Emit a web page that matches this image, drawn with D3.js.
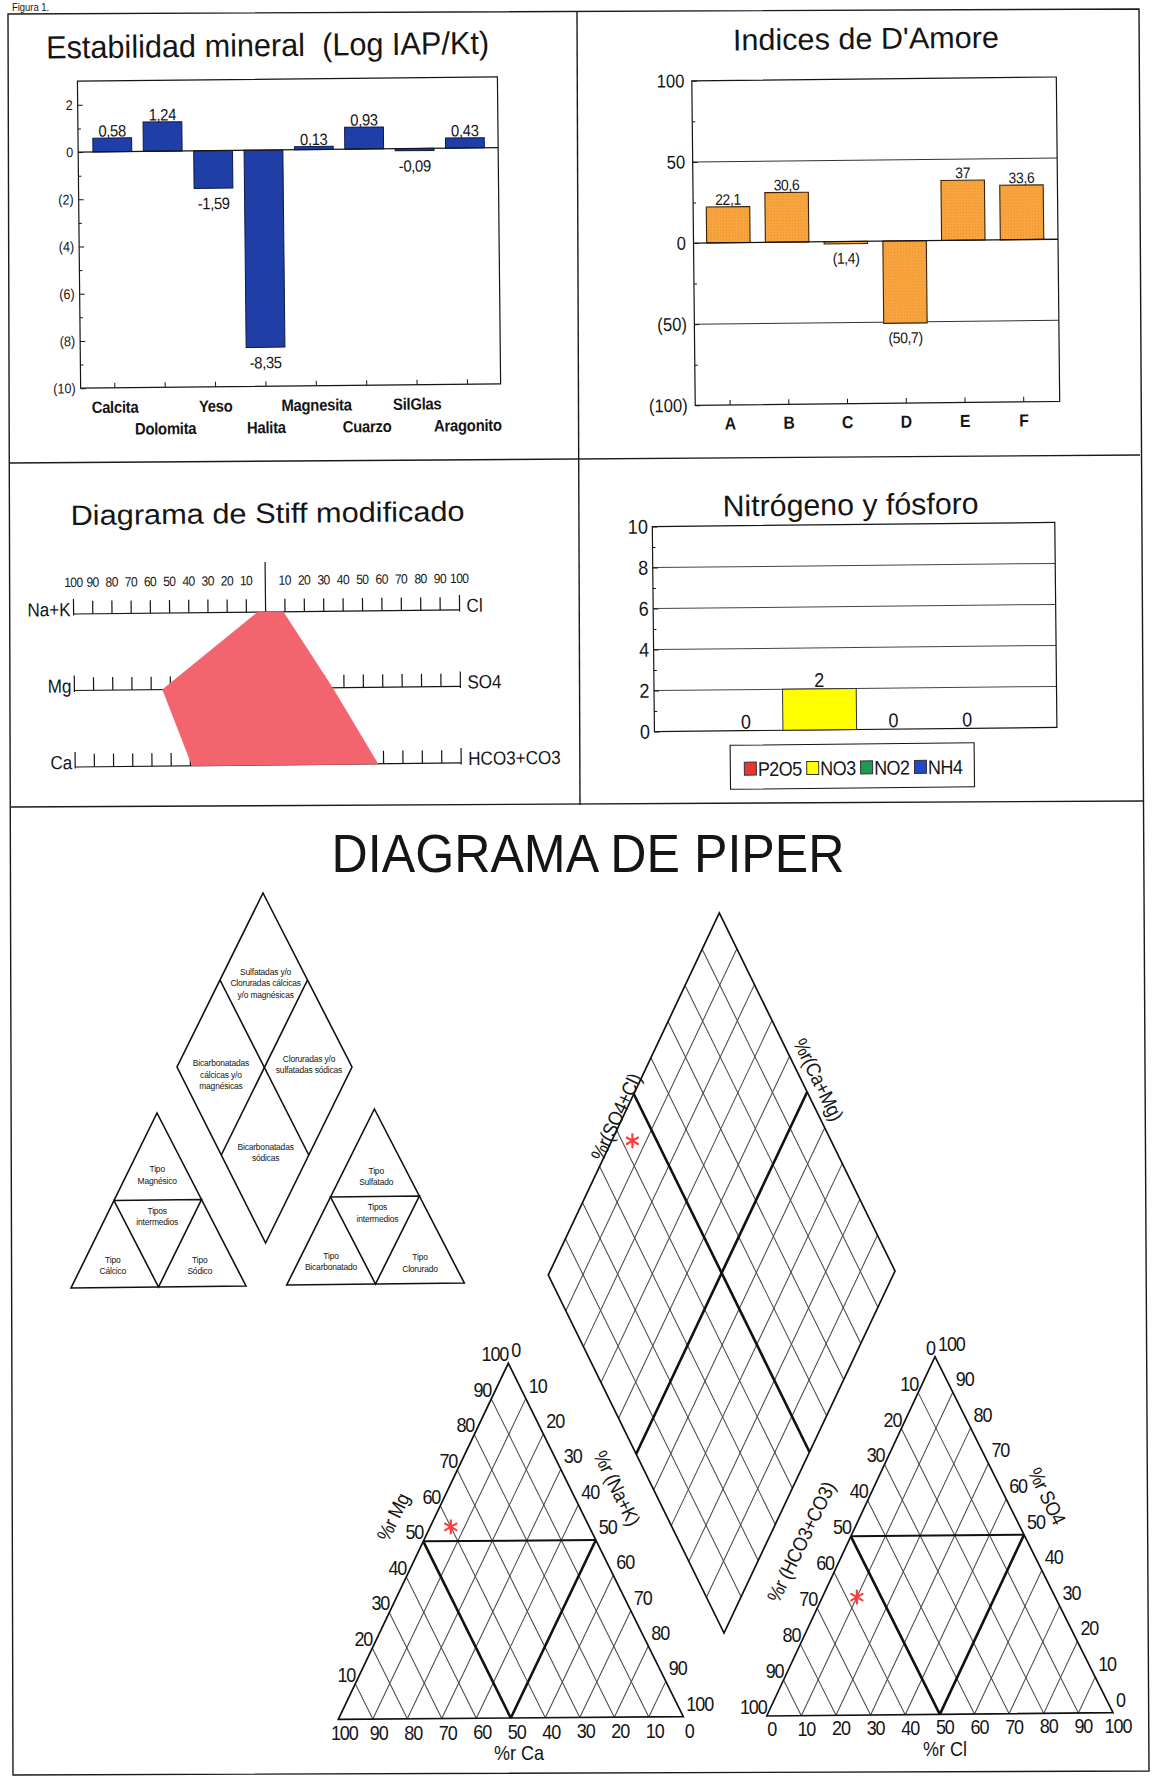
<!DOCTYPE html>
<html lang="es"><head><meta charset="utf-8"><title>Figura 1</title>
<script src="https://cdn.jsdelivr.net/npm/d3@7/dist/d3.min.js"></script>
<style>
html,body{margin:0;padding:0;background:#fff}
svg{display:block}
text{font-family:"Liberation Sans",Arial,Helvetica,sans-serif;fill:#151515}
</style></head><body>
<svg id="chart" width="1153" height="1778" viewBox="0 0 1153 1778"></svg>
<script>
// ================= DATA =================
const mineralNames = ["Calcita","Dolomita","Yeso","Halita","Magnesita","Cuarzo","SilGlas","Aragonito"];
const mineralLogIapKt = [0.58, 1.24, -1.59, -8.35, 0.13, 0.93, -0.09, 0.43];
const mineralTicks = [2, 0, -2, -4, -6, -8, -10];
const mineralMinorTicks = [1, -1, -3, -5, -7, -9];

const damoreIndices = ["A","B","C","D","E","F"];
const damoreValues = [22.1, 30.6, -1.4, -50.7, 37, 33.6];
const damoreTicks = [100, 50, 0, -50, -100];
const damoreMinorTicks = [75, 25, -25, -75];
const damoreGrid = [50, -50];

const stiffCations = ["Na+K","Mg","Ca"];
const stiffCationPct = [4, 54, 39];
const stiffAnions = ["Cl","SO4","HCO3+CO3"];
const stiffAnionPct = [9, 34, 57];
const stiffTicks = [10,20,30,40,50,60,70,80,90,100];

const nutrientNames = ["P2O5","NO3","NO2","NH4"];
const nutrientValues = [0, 2, 0, 0];
const nutrientTicks = [0, 2, 4, 6, 8, 10];
const nutrientMinorTicks = [1, 3, 5, 7, 9];
const nutrientGrid = [2, 4, 6, 8];

const piperCationNames = ["Ca","Mg","Na+K"];
const piperCationPct = [40, 54, 6];
const piperAnionNames = ["HCO3+CO3","SO4","Cl"];
const piperAnionPct = [57, 33, 10];
const piperTicks = [0,10,20,30,40,50,60,70,80,90,100];

// ================= STYLE =================
const FF = '"Liberation Sans", Arial, Helvetica, sans-serif';
const INK = "#151515";
const BLUE_TXT = "#3456b8";
const mineralFill = "#1f3fa6";
const nutrientFill = ["#e8352f","#ffff00","#1e9a55","#2348c8"];
const stiffFill = "#f2646e";
const starColor = "#ff3b3b";
const SQ = 0.9; // horizontal condensation of the printed lettering

const svg = d3.select("#chart");
const defs = svg.append("defs");
const pat = defs.append("pattern").attr("id","orangeDots").attr("patternUnits","userSpaceOnUse").attr("width",3).attr("height",3);
pat.append("rect").attr("width",3).attr("height",3).attr("fill","#f8a540");
pat.append("rect").attr("width",1).attr("height",1).attr("fill","#e38d2c");

function styleAxis(sel, size, weight){
  sel.select(".domain").remove();
  sel.selectAll("text").attr("font-family",FF).attr("font-size",size||10).attr("font-weight",weight||"normal").attr("fill",INK);
  sel.selectAll("line").attr("stroke",INK);
}
function title(g, x, y, size, len, txt){
  g.append("text").attr("class","ttl").attr("x",x).attr("y",y).attr("text-anchor","middle").attr("font-size",size)
   .attr("textLength",len).attr("lengthAdjust","spacingAndGlyphs").text(txt);
}

// ================= PAGE FRAME =================
const fr = svg.append("g").attr("fill","none").attr("stroke","#1a1a1a").attr("stroke-width",1.4);
fr.append("path").attr("d","M8,14L1139,9L1149,1771L13,1775Z");
fr.append("path").attr("d","M9,463L1140,455");
fr.append("path").attr("d","M11,807L1143,801");
fr.append("path").attr("d","M577,12L580,805");
svg.append("text").attr("x",12).attr("y",11).attr("font-family",'"Liberation Serif","Times New Roman",serif')
  .attr("font-size",10.5).text("Figura 1.");

// ================= CHART 1: Estabilidad mineral =================
{
  const g = svg.append("g").attr("transform","rotate(-0.6,290,230)");
  const x = d3.scaleBand().domain(mineralNames).range([88,491]).paddingInner(0.23).paddingOuter(0.115);
  const y = d3.scaleLinear().domain([-10,3]).range([386,79]);
  const L = 79, R = 499;
  title(g, 269.5, 56, 32, 443, "Estabilidad mineral\u00a0\u00a0(Log IAP/Kt)");
  g.append("rect").attr("x",L).attr("y",y(3)).attr("width",R-L).attr("height",y(-10)-y(3))
    .attr("fill","none").attr("stroke",INK).attr("stroke-width",1.2);
  g.append("g").selectAll("rect").data(mineralNames).join("rect")
    .attr("x",d=>x(d)).attr("width",x.bandwidth())
    .attr("y",(d,i)=>y(Math.max(0,mineralLogIapKt[i])))
    .attr("height",(d,i)=>Math.abs(y(mineralLogIapKt[i])-y(0)))
    .attr("fill",mineralFill).attr("stroke","#0c1848").attr("stroke-width",1);
  g.append("line").attr("x1",L).attr("x2",R).attr("y1",y(0)).attr("y2",y(0)).attr("stroke",INK).attr("stroke-width",1.2);
  const fmt = v => v.toFixed(2).replace(".",",");
  g.append("g").selectAll("text").data(mineralNames).join("text")
    .attr("x",d=>x(d)+x.bandwidth()/2)
    .attr("y",(d,i)=>{const v=mineralLogIapKt[i]; return v>=0 ? y(v)-1.5 : y(v)+21;})
    .attr("text-anchor","middle").attr("font-size",16.5).attr("letter-spacing",-0.4)
    .text((d,i)=>fmt(mineralLogIapKt[i]));
  const ya = g.append("g").attr("transform",`translate(${L},0)`)
    .call(d3.axisLeft(y).tickValues(mineralTicks).tickSize(-5).tickSizeOuter(0).tickPadding(5)
      .tickFormat(v=>v<0?`(${-v})`:`${v}`));
  styleAxis(ya, 14);
  const ym = g.append("g").attr("transform",`translate(${L},0)`)
    .call(d3.axisLeft(y).tickValues(mineralMinorTicks).tickSize(-3).tickSizeOuter(0).tickFormat(""));
  styleAxis(ym);
  const xa = g.append("g").attr("transform",`translate(0,${y(-10)})`)
    .call(d3.axisBottom(x).tickSize(-5).tickSizeOuter(0).tickFormat(""));
  styleAxis(xa);
  g.append("g").selectAll("text").data(mineralNames).join("text")
    .attr("x",d=>x(d)+x.bandwidth()/2).attr("y",(d,i)=>i%2===0?411:433)
    .attr("text-anchor","middle").attr("font-size",16.5).attr("font-weight","bold").attr("letter-spacing",-0.3)
    .text(d=>d);
}

// ================= CHART 2: Indices de D'Amore =================
{
  const g = svg.append("g").attr("transform","rotate(-0.6,866,240)");
  const x = d3.scaleBand().domain(damoreIndices).range([699,1051.4]).paddingInner(0.26).paddingOuter(0.13);
  const y = d3.scaleLinear().domain([-100,100]).range([403.5,79]);
  const L = 693.5, R = 1058;
  title(g, 868, 49, 30, 266, "Indices de D'Amore");
  g.append("g").selectAll("line").data(damoreGrid).join("line")
    .attr("x1",L).attr("x2",R).attr("y1",d=>y(d)).attr("y2",d=>y(d)).attr("stroke","#333").attr("stroke-width",1);
  g.append("rect").attr("x",L).attr("y",y(100)).attr("width",R-L).attr("height",y(-100)-y(100))
    .attr("fill","none").attr("stroke",INK).attr("stroke-width",1.2);
  g.append("g").selectAll("rect").data(damoreIndices).join("rect")
    .attr("x",d=>x(d)).attr("width",x.bandwidth())
    .attr("y",(d,i)=>y(Math.max(0,damoreValues[i])))
    .attr("height",(d,i)=>Math.abs(y(damoreValues[i])-y(0)))
    .attr("fill","url(#orangeDots)").attr("stroke","#3a2206").attr("stroke-width",1.1);
  g.append("line").attr("x1",L).attr("x2",R).attr("y1",y(0)).attr("y2",y(0)).attr("stroke",INK).attr("stroke-width",1.3);
  const fmt = v => { const s = String(Math.abs(v)).replace(".",","); return v<0?`(${s})`:s; };
  g.append("g").selectAll("text").data(damoreIndices).join("text")
    .attr("x",d=>x(d)+x.bandwidth()/2)
    .attr("y",(d,i)=>{const v=damoreValues[i]; return v>=0 ? y(v)-2 : y(v)+20;})
    .attr("text-anchor","middle").attr("font-size",15.5).attr("letter-spacing",-0.4)
    .text((d,i)=>fmt(damoreValues[i]));
  const ya = g.append("g").attr("transform",`translate(${L},0)`)
    .call(d3.axisLeft(y).tickValues(damoreTicks).tickSize(-5).tickSizeOuter(0).tickPadding(7.5)
      .tickFormat(v=>v<0?`(${-v})`:`${v}`));
  styleAxis(ya, 18.5);
  const ym = g.append("g").attr("transform",`translate(${L},0)`)
    .call(d3.axisLeft(y).tickValues(damoreMinorTicks).tickSize(-3).tickSizeOuter(0).tickFormat(""));
  styleAxis(ym);
  const xa = g.append("g").attr("transform",`translate(0,${y(-100)})`)
    .call(d3.axisBottom(x).tickSize(-5).tickSizeOuter(0).tickFormat(""));
  styleAxis(xa);
  g.append("g").selectAll("text").data(damoreIndices).join("text")
    .attr("x",d=>x(d)+x.bandwidth()/2).attr("y",428)
    .attr("text-anchor","middle").attr("font-size",17.5).attr("font-weight","bold").text(d=>d);
}

// ================= CHART 3: Stiff =================
{
  const g = svg.append("g").attr("transform","rotate(-0.6,266,650)");
  title(g, 269, 523, 28, 394, "Diagrama de Stiff modificado");
  const sL = d3.scaleLinear().domain([0,100]).range([266,74]);
  const sR = d3.scaleLinear().domain([0,100]).range([266,460]);
  const rowY = d3.scalePoint().domain(d3.range(3)).range([612,765]);
  const ax = g.append("g").attr("stroke",INK).attr("stroke-width",1.2);
  ax.append("line").attr("x1",sL(0)).attr("x2",sL(0)).attr("y1",562).attr("y2",rowY(2));
  d3.range(3).forEach(i=>{
    const yy = rowY(i);
    ax.append("line").attr("x1",sL(100)).attr("x2",sR(100)).attr("y1",yy).attr("y2",yy);
    [sL,sR].forEach(s=>{
      ax.selectAll(null).data(stiffTicks).join("line")
        .attr("x1",d=>s(d)).attr("x2",d=>s(d))
        .attr("y1",d=>yy-(d===100?15:13)).attr("y2",d=>yy+(d===100?1.5:0));
    });
    g.append("text").attr("x",sL(100)-3).attr("y",yy+2).attr("text-anchor","end").attr("font-size",19).text(stiffCations[i]);
    g.append("text").attr("x",sR(100)+7).attr("y",yy+2).attr("text-anchor","start").attr("font-size",19).text(stiffAnions[i]);
  });
  [sL,sR].forEach(s=>{
    g.append("g").selectAll("text").data(stiffTicks).join("text")
      .attr("x",d=>s(d)).attr("y",585).attr("text-anchor","middle").attr("font-size",13.5).attr("letter-spacing",-0.7)
      .text(d=>d);
  });
  const pts = [
    [sL(stiffCationPct[0]), rowY(0)], [sR(stiffAnionPct[0]), rowY(0)],
    [sR(stiffAnionPct[1]), rowY(1)], [sR(stiffAnionPct[2]), rowY(2)],
    [sL(stiffCationPct[2]), rowY(2)], [sL(stiffCationPct[1]), rowY(1)]
  ];
  g.append("path").attr("d", d3.line()(pts)+"Z").attr("fill",stiffFill).attr("stroke",stiffFill).attr("stroke-width",0.8);
}

// ================= CHART 4: Nitrógeno y fósforo =================
{
  const g = svg.append("g").attr("transform","rotate(-0.6,855,640)");
  title(g, 852, 515, 30, 256, "Nitrógeno y fósforo");
  const x = d3.scaleBand().domain(nutrientNames).range([708.3,1003.1]).padding(0);
  const y = d3.scaleLinear().domain([0,10]).range([729.5,524.5]);
  const L = 653.5, R = 1056;
  g.append("g").selectAll("line").data(nutrientGrid).join("line")
    .attr("x1",L).attr("x2",R).attr("y1",d=>y(d)).attr("y2",d=>y(d)).attr("stroke","#444").attr("stroke-width",1);
  g.append("rect").attr("x",L).attr("y",y(10)).attr("width",R-L).attr("height",y(0)-y(10))
    .attr("fill","none").attr("stroke",INK).attr("stroke-width",1.2);
  g.append("g").selectAll("rect").data(nutrientNames).join("rect")
    .attr("x",d=>x(d)).attr("width",x.bandwidth())
    .attr("y",(d,i)=>y(nutrientValues[i])).attr("height",(d,i)=>y(0)-y(nutrientValues[i]))
    .attr("fill",(d,i)=>nutrientFill[i]).attr("stroke","#333").attr("stroke-width",1);
  g.append("g").selectAll("text").data(nutrientNames).join("text")
    .attr("x",d=>x(d)+x.bandwidth()/2).attr("y",(d,i)=>y(nutrientValues[i])-2)
    .attr("text-anchor","middle").attr("font-size",20).text((d,i)=>nutrientValues[i]);
  const ya = g.append("g").attr("transform",`translate(${L},0)`)
    .call(d3.axisLeft(y).tickValues(nutrientTicks).tickSize(-5).tickSizeOuter(0).tickPadding(4.5));
  styleAxis(ya, 20);
  const ym = g.append("g").attr("transform",`translate(${L},0)`)
    .call(d3.axisLeft(y).tickValues(nutrientMinorTicks).tickSize(-3).tickSizeOuter(0).tickFormat(""));
  styleAxis(ym);
  const lg = g.append("g");
  lg.append("rect").attr("x",729).attr("y",744).attr("width",244).attr("height",44)
    .attr("fill","none").attr("stroke",INK).attr("stroke-width",1.1);
  let cx = 743;
  nutrientNames.forEach((n,i)=>{
    lg.append("rect").attr("x",cx).attr("y",761).attr("width",12).attr("height",13)
      .attr("fill",nutrientFill[i]).attr("stroke","#333").attr("stroke-width",1);
    const t = lg.append("text").attr("x",cx+13.5).attr("y",775).attr("font-size",20).attr("letter-spacing",-0.6).text(n);
    cx = cx + 13.5 + t.node().getComputedTextLength()*SQ + 5;
  });
}

// ================= PIPER =================
const gp = svg.append("g");
title(gp, 588, 872, 54, 513, "DIAGRAMA DE PIPER");
const mid = (p,q)=>[(p[0]+q[0])/2,(p[1]+q[1])/2];

// ---- explanatory (legend) diagram ----
{
  const g = gp.append("g");
  const lines = g.append("g").attr("fill","none").attr("stroke","#111").attr("stroke-width",1.6);
  const T=[263,893], Lf=[177,1067], Rt=[352,1067], Bt=[265.6,1243];
  lines.append("path").attr("d",d3.line()([T,Rt,Bt,Lf])+"Z");
  lines.append("path").attr("d",d3.line()([mid(T,Lf),mid(Rt,Bt)]));
  lines.append("path").attr("d",d3.line()([mid(T,Rt),mid(Lf,Bt)]));
  const tri = (A,BL,BR)=>{
    lines.append("path").attr("d",d3.line()([A,BR,BL])+"Z");
    lines.append("path").attr("d",d3.line()([mid(A,BL),mid(A,BR),mid(BL,BR)])+"Z");
  };
  tri([157,1113],[71,1288],[246,1286]);
  tri([374.4,1109],[286.7,1285],[464.3,1283]);
  const lab = (x,y,arr,lh)=>{
    const t = g.append("text").attr("x",x).attr("y",y).attr("text-anchor","middle").attr("font-size",9.4).attr("letter-spacing",-0.2);
    arr.forEach((s,i)=>t.append("tspan").attr("x",x).attr("dy",i?lh:0).text(s));
  };
  lab(265.6,975,["Sulfatadas y/o","Cloruradas cálcicas","y/o magnésicas"],11.3);
  lab(220.9,1066.5,["Bicarbonatadas","cálcicas y/o","magnésicas"],11.3);
  lab(309,1062.5,["Cloruradas y/o","sulfatadas sódicas"],10.5);
  lab(265.6,1150,["Bicarbonatadas","sódicas"],11.5);
  lab(157.2,1172.5,["Tipo","Magnésico"],11.3);
  lab(157.2,1214,["Tipos","intermedios"],11.3);
  lab(112.8,1263,["Tipo","Cálcico"],11.3);
  lab(199.8,1263,["Tipo","Sódico"],11.3);
  lab(376.2,1174,["Tipo","Sulfatado"],11.3);
  lab(377.4,1210.5,["Tipos","intermedios"],11.3);
  lab(331,1259,["Tipo","Bicarbonatado"],11.3);
  lab(420,1260.5,["Tipo","Clorurado"],11.3);
}

// ---- geometry helpers through d3 scales ----
const pct = d3.scaleLinear().domain([0,100]).range([0,1]);
function ternary(O,A,Q){ // O: bottom-left vertex, A: apex, Q: bottom-right
  return (a,b)=>{ const ta=pct(a), tb=pct(b);
    return [O[0]+ta*(A[0]-O[0])+tb*(Q[0]-O[0]), O[1]+ta*(A[1]-O[1])+tb*(Q[1]-O[1])]; };
}
function star(g,[x,y]){
  const r=6.5;
  [90,30,-30].forEach(a=>{ const rad=a*Math.PI/180;
    g.append("line").attr("x1",x-r*Math.cos(rad)).attr("y1",y-r*Math.sin(rad))
      .attr("x2",x+r*Math.cos(rad)).attr("y2",y+r*Math.sin(rad))
      .attr("stroke",starColor).attr("stroke-width",2.2).attr("stroke-linecap","round"); });
}
const inner = d3.range(10,100,10);
const GRID = {stroke:"#4a4a4a", w:1.05}, EDGE = {stroke:"#111", w:1.7}, BOLD = {stroke:"#111", w:2.6};
function seg(g,p,q,st){ g.append("line").attr("x1",p[0]).attr("y1",p[1]).attr("x2",q[0]).attr("y2",q[1]).attr("stroke",st.stroke).attr("stroke-width",st.w); }
function rotLabel(g,x,y,ang,txt){
  g.append("text").attr("x",x).attr("y",y).attr("dy","0.35em").attr("text-anchor","middle")
    .attr("transform",`rotate(${ang},${x},${y})`).attr("font-size",20).attr("fill",BLUE_TXT).attr("letter-spacing",-0.5).text(txt);
}
function drawTriangle(g, O, A, Q){
  const P = ternary(O,A,Q);
  inner.forEach(t=>{ seg(g,P(0,t),P(t,0),GRID); seg(g,P(0,t),P(100-t,t),GRID); });
  g.append("path").attr("d",d3.line()([O,A,Q])+"Z").attr("fill","none").attr("stroke",EDGE.stroke).attr("stroke-width",EDGE.w);
  seg(g,P(50,0),P(50,50),{stroke:"#111",w:2});
  seg(g,P(50,0),P(0,50),BOLD); seg(g,P(50,50),P(0,50),BOLD);
  return P;
}
function tickLabels(g, pts, vals, anchor, dx, dy){
  g.append("g").selectAll("text").data(vals).join("text")
    .attr("x",(d,i)=>pts[i][0]+dx).attr("y",(d,i)=>pts[i][1]+dy).attr("text-anchor",anchor)
    .attr("font-size",20).attr("letter-spacing",-1.2).attr("fill",BLUE_TXT).text(d=>d);
}

// ---- main diamond ----
{
  const g = gp.append("g");
  const B=[724,1633], L=[548.3,1275], R=[895,1271];
  const D = ternary(B,L,R); // (Ca+Mg, SO4+Cl)
  inner.forEach(t=>{ seg(g,D(t,0),D(t,100),GRID); seg(g,D(0,t),D(100,t),GRID); });
  g.append("path").attr("d",d3.line()([D(0,0),D(100,0),D(100,100),D(0,100)])+"Z")
    .attr("fill","none").attr("stroke",EDGE.stroke).attr("stroke-width",EDGE.w);
  seg(g,D(50,0),D(50,100),BOLD); seg(g,D(0,50),D(100,50),BOLD);
  rotLabel(g,616,1117,-65,"%r(SO4+Cl)");
  rotLabel(g,818.5,1079.5,64,"%r(Ca+Mg)");
  const caMg = piperCationPct[0]+piperCationPct[1];
  const so4Cl = piperAnionPct[1]+piperAnionPct[2];
  star(g, D(caMg, so4Cl));
}

// ---- cation triangle ----
{
  const g = gp.append("g");
  const BL=[338.3,1719.3], A=[508.3,1363.3], BR=[683.3,1716.7];
  const P = drawTriangle(g, BL, A, BR); // (Mg, Na+K)
  const leftVals = piperTicks.slice(1);
  tickLabels(g, leftVals.map(k=>P(k,0)), leftVals, "end", 0, -2);
  tickLabels(g, piperTicks.map(k=>P(100-k,k)), piperTicks, "start", 3, -6);
  tickLabels(g, piperTicks.map(k=>P(0,100-k)), piperTicks, "middle", 6, 21);
  g.append("text").attr("x",519).attr("y",1760).attr("text-anchor","middle").attr("font-size",20).attr("fill",BLUE_TXT).text("%r Ca");
  rotLabel(g,393,1517,-64,"%r Mg");
  rotLabel(g,617,1488,64,"%r (Na+K)");
  star(g, P(piperCationPct[1], piperCationPct[2]));
}

// ---- anion triangle ----
{
  const g = gp.append("g");
  const BL=[766.7,1716], A=[935,1356.7], BR=[1113,1712.7];
  const P = drawTriangle(g, BL, A, BR); // (SO4, Cl)
  tickLabels(g, piperTicks.map(k=>P(100-k,0)), piperTicks, "end", 0, -2);
  tickLabels(g, piperTicks.map(k=>P(k,100-k)), piperTicks, "start", 3, -6);
  tickLabels(g, piperTicks.map(k=>P(0,k)), piperTicks, "middle", 5, 20);
  g.append("text").attr("x",945).attr("y",1756).attr("text-anchor","middle").attr("font-size",20).attr("fill",BLUE_TXT).text("%r Cl");
  rotLabel(g,801,1542,-64,"%r (HCO3+CO3)");
  rotLabel(g,1047,1496,64,"%r SO4");
  star(g, P(piperAnionPct[1], piperAnionPct[2]));
}

// ---- condense lettering horizontally (as in the printed original) ----
svg.selectAll("text:not(.ttl)").each(function(){
  const t = d3.select(this);
  const x = +t.attr("x") || 0, y = +t.attr("y") || 0;
  const prev = t.attr("transform") || "";
  t.attr("transform", `${prev} translate(${x},${y}) scale(${SQ},1) translate(${-x},${-y})`);
});
</script>
</body></html>
